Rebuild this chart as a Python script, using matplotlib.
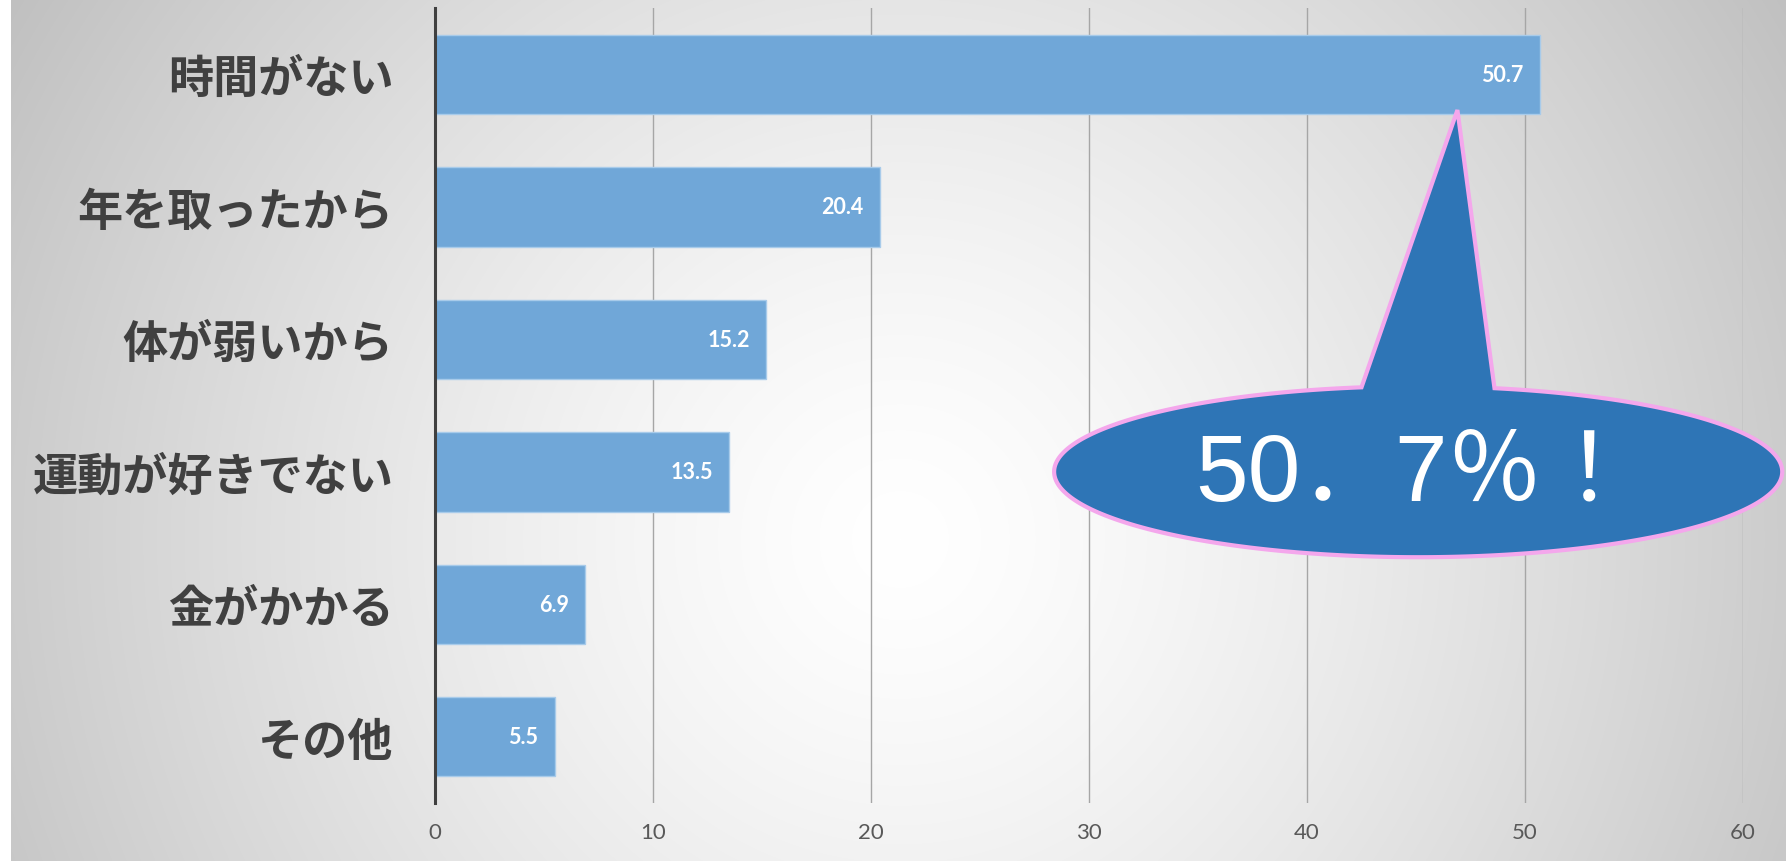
import numpy as np
import matplotlib
matplotlib.use('Agg')
import matplotlib.pyplot as plt
from matplotlib.patches import Polygon

categories = ['時間がない', '年を取ったから', '体が弱いから', '運動が好きでない', '金がかかる', 'その他']
values = [50.7, 20.4, 15.2, 13.5, 6.9, 5.5]
xticks = [0, 10, 20, 30, 40, 50, 60]
callout_text = '50．7％！'

W, H = 1789, 862
fig = plt.figure(figsize=(W / 100, H / 100), dpi=100)
fig.patch.set_facecolor('white')

# radial gradient background
bg = fig.add_axes([11 / W, 0, 1775 / W, 1])
bg.set_axis_off()
nx, ny = 1775, 862
X, Y = np.meshgrid(np.arange(nx) + 11, np.arange(ny))
d = np.hypot(X - 900, Y - 540)
v = 1 - 0.25 * np.clip(d / 1050, 0, 1.2) ** 1.35
img = np.dstack([v, v, v])
bg.imshow(img, aspect='auto', extent=[0, 1, 0, 1], origin='upper', interpolation='bilinear')

ax = fig.add_axes([435 / W, 1 - 804 / H, (1743 - 435) / W, (804 - 9) / H])
ax.patch.set_alpha(0)
y = np.arange(len(categories))
ax.barh(y, values, height=0.6, color='#70a7d8', edgecolor='#a8cbea', linewidth=1, zorder=2)
ax.set_xlim(0, 60)
ax.set_ylim(len(categories) - 0.5, -0.5)
ax.set_xticks(xticks)
ax.set_xticklabels([str(t) for t in xticks], fontsize=16, color='#595959', family='Lato')
ax.grid(axis='x', color='#a6a6a6', linewidth=1)
ax.grid(axis='y', visible=False)
ax.set_axisbelow(True)
for s in ['top', 'right', 'bottom']:
    ax.spines[s].set_visible(False)
ax.spines['left'].set_color('#404040')
ax.spines['left'].set_linewidth(2.2)
ax.spines['left'].set_zorder(3)
ax.set_yticks(y)
ax.set_yticklabels(categories, fontsize=32.5, fontweight='bold', color='#404040',
                   family=['Noto Sans CJK JP'])
ax.tick_params(axis='y', length=0, pad=30)
ax.tick_params(axis='x', length=0, pad=14)

for yi, val in zip(y, values):
    ax.annotate(f'{val}', (val, yi), xytext=(-12, 0), textcoords='offset points',
                ha='right', va='center', color='white', fontweight='bold',
                fontsize=15.5, family='Lato', zorder=4)

# callout balloon (ellipse + pointer)
cx, cy, a, b = 45.1, 3.0, 16.7, 0.645
bl, br = 42.5, 48.6
tip = (46.9, 0.27)
tl = np.arccos((bl - cx) / a)
tr = np.arccos((br - cx) / a)
ts = np.linspace(tl, 2 * np.pi + tr, 400)
pts = [(cx + a * np.cos(t), cy - b * np.sin(t)) for t in ts]
pts.append(tip)
poly = Polygon(pts, closed=True, facecolor='#2e75b6', edgecolor='#f4a7ec',
               linewidth=3, zorder=5, clip_on=False, joinstyle='miter')
ax.add_patch(poly)
ax.text(45.0, cy + 0.03, callout_text, ha='center', va='center', color='white', fontsize=68,
        family=['Liberation Sans', 'Noto Sans CJK JP'], zorder=6, clip_on=False)

fig.savefig('out.png', dpi=100)
